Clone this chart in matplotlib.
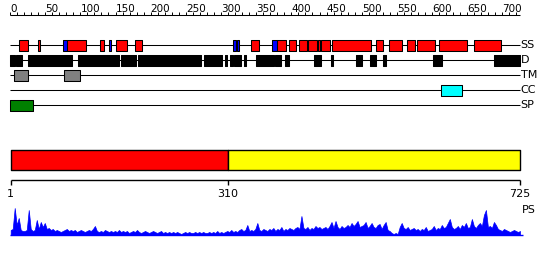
import numpy as np
import matplotlib.pyplot as plt

# protein feature summary, 725 residues
seq_len = 725

# secondary structure (start, end) in residues
ss_helix = [(13, 26), (40, 43), (81, 108), (128, 134), (151, 167), (177, 187),
            (342, 354), (379, 393), (397, 406), (411, 422), (424, 436), (438, 441),
            (442, 455), (458, 513), (520, 530), (539, 557), (565, 576), (579, 604),
            (610, 650), (659, 698)]
ss_strand = [(76, 81), (141, 144), (317, 321), (323, 325), (373, 379)]
disorder = [(0, 7), (9, 17), (25, 88), (96, 155), (158, 179), (182, 272), (276, 302),
            (306, 308), (313, 317), (319, 329), (332, 336), (350, 375), (377, 385),
            (391, 396), (432, 442), (456, 459), (492, 500), (512, 520), (530, 534),
            (601, 614), (688, 725)]
tm = [(5, 26), (77, 99)]
cc = [(613, 642)]
sp = [(0, 33)]

domain_bounds = [1, 310, 725]
domain_colors = ['#ff0000', '#ffff00']

# PS score profile (arbitrary units 0-27)
ps = [5, 6, 27, 10, 17, 5, 4, 4, 5, 25, 6, 4, 5, 15, 6, 13, 8, 12, 6, 7,
      5, 6, 4, 5, 4, 3, 4, 5, 6, 4, 5, 4, 5, 3, 4, 5, 4, 3, 4, 5,
      4, 6, 9, 4, 3, 4, 3, 5, 4, 3, 4, 3, 4, 3, 5, 3, 4, 3, 4, 2,
      3, 4, 3, 5, 3, 2, 3, 4, 3, 2, 3, 4, 3, 2, 3, 4, 2, 3, 2, 3,
      2, 3, 2, 3, 2, 1, 2, 3, 2, 3, 2, 2, 3, 2, 3, 2, 3, 2, 2, 3,
      2, 3, 2, 4, 2, 3, 2, 3, 4, 3, 5, 3, 4, 3, 5, 6, 4, 5, 10, 4,
      5, 4, 6, 12, 5, 4, 6, 5, 4, 6, 5, 7, 4, 6, 5, 8, 4, 6, 5, 7,
      6, 5, 7, 8, 6, 19, 7, 6, 8, 5, 7, 6, 9, 7, 8, 6, 7, 8, 6, 9,
      13, 7, 14, 8, 6, 9, 7, 8, 10, 8, 12, 9, 11, 14, 8, 9, 10, 13, 7, 9,
      12, 8, 7, 10, 11, 6, 10, 13, 5, 4, 2, 1, 2, 1, 8, 12, 7, 6, 8, 5,
      6, 7, 5, 6, 4, 6, 5, 8, 4, 5, 6, 9, 5, 7, 6, 10, 7, 8, 12, 16,
      8, 6, 7, 9, 6, 10, 8, 12, 7, 8, 16, 9, 7, 10, 12, 9, 20, 25, 8, 9,
      7, 13, 10, 6, 5, 4, 6, 5, 4, 3, 4, 5, 4, 3, 4]

W, H = 550, 260
left, right = 10, 520
k = seq_len / (right - left)

fig = plt.figure(figsize=(W / 100, H / 100), dpi=100)
ax = fig.add_axes([0, 0, 1, 1])
ax.set_xlim(-left * k, (W - left) * k)
ax.set_ylim(H, 0)
ax.axis('off')

fs = 8
lw = 0.75

# ruler
ax.hlines(15, 0, seq_len, color='black', lw=lw)
ax.vlines(np.arange(0, 721, 10), 12, 15, color='black', lw=0.7)
for t in range(0, 701, 50):
    ax.text(t, 12, str(t), ha='left', va='baseline', fontsize=7.5)

# feature tracks
rows = {'SS': 45, 'D': 60, 'TM': 75, 'CC': 90, 'SP': 105}
for name, y in rows.items():
    ax.hlines(y, 0, seq_len, color='black', lw=lw)
    ax.text(seq_len + 1, y, name, ha='left', va='center', fontsize=fs)


def boxes(spans, row, color):
    y = rows[row]
    ax.broken_barh([(a, b - a) for a, b in spans], (y - 5.5, 11),
                   facecolors=color, edgecolors='black', lw=lw, zorder=3)


boxes(ss_helix, 'SS', '#ff0000')
boxes(ss_strand, 'SS', '#0000ff')
boxes(disorder, 'D', 'black')
boxes(tm, 'TM', '#808080')
boxes(cc, 'CC', '#00ffff')
boxes(sp, 'SP', '#008000')

# domain bar
for i, c in enumerate(domain_colors):
    a, b = domain_bounds[i], domain_bounds[i + 1]
    ax.broken_barh([(a, b - a)], (150, 20), facecolors=c,
                   edgecolors='black', lw=1.0, zorder=3)

ax.hlines(180, domain_bounds[0], domain_bounds[-1], color='black', lw=1.0)
ax.vlines(domain_bounds, 180, 185, color='black', lw=1.0)
for b in domain_bounds:
    ax.text(b, 189, str(b), ha='center', va='top', fontsize=fs)

# PS profile
ax.text(seq_len + 2, 210, 'PS', ha='left', va='center', fontsize=fs)
ax.hlines(235, 0, seq_len + 4, color='blue', lw=1.0)
axp = fig.add_axes([left / W, (H - 235) / H, (right - left) / W, 28 / H])
xs = np.linspace(1, seq_len, len(ps))
axp.fill_between(xs, ps, 0, color='blue', lw=0.5)
axp.set_xlim(0, seq_len)
axp.set_ylim(0, 28)
axp.axis('off')

fig.savefig('out.png', dpi=100)
